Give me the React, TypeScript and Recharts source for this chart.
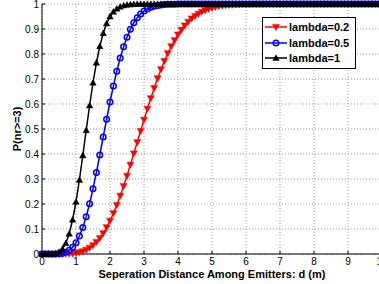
import { CartesianGrid, Line, LineChart, XAxis, YAxis } from "recharts";

// separation distance d (m)
const dist = [
  0, 0.1, 0.2, 0.3, 0.4, 0.5, 0.6, 0.7, 0.8, 0.9,
  1, 1.1, 1.2, 1.3, 1.4, 1.5, 1.6, 1.7, 1.8, 1.9,
  2, 2.1, 2.2, 2.3, 2.4, 2.5, 2.6, 2.7, 2.8, 2.9,
  3, 3.1, 3.2, 3.3, 3.4, 3.5, 3.6, 3.7, 3.8, 3.9,
  4, 4.1, 4.2, 4.3, 4.4, 4.5, 4.6, 4.7, 4.8, 4.9,
  5, 5.1, 5.2, 5.3, 5.4, 5.5, 5.6, 5.7, 5.8, 5.9,
  6, 6.1, 6.2, 6.3, 6.4, 6.5, 6.6, 6.7, 6.8, 6.9,
  7, 7.1, 7.2, 7.3, 7.4, 7.5, 7.6, 7.7, 7.8, 7.9,
  8, 8.1, 8.2, 8.3, 8.4, 8.5, 8.6, 8.7, 8.8, 8.9,
  9, 9.1, 9.2, 9.3, 9.4, 9.5, 9.6, 9.7, 9.8, 9.9,
  10,
];

const lambda02 = [
  0, 0, 0, 0, 0, 0, 0, 0.001, 0.001, 0.002,
  0.004, 0.007, 0.011, 0.017, 0.025, 0.035, 0.048, 0.064, 0.083, 0.107,
  0.133, 0.163, 0.196, 0.233, 0.272, 0.313, 0.357, 0.402, 0.447, 0.492,
  0.537, 0.581, 0.623, 0.664, 0.703, 0.739, 0.772, 0.803, 0.831, 0.855,
  0.878, 0.897, 0.914, 0.929, 0.942, 0.952, 0.961, 0.969, 0.975, 0.98,
  0.985, 0.988, 0.991, 0.993, 0.995, 0.996, 0.997, 0.998, 0.998, 0.999,
  0.999, 0.999, 1, 1, 1, 1, 1, 1, 1, 1,
  1, 1, 1, 1, 1, 1, 1, 1, 1, 1,
  1, 1, 1, 1, 1, 1, 1, 1, 1, 1,
  1, 1, 1, 1, 1, 1, 1, 1, 1, 1,
  1,
];

const lambda05 = [
  0, 0, 0, 0, 0, 0.001, 0.003, 0.007, 0.015, 0.027,
  0.045, 0.072, 0.106, 0.149, 0.201, 0.261, 0.326, 0.396, 0.468, 0.539,
  0.608, 0.672, 0.731, 0.784, 0.829, 0.867, 0.899, 0.925, 0.945, 0.96,
  0.972, 0.98, 0.987, 0.991, 0.994, 0.996, 0.998, 0.999, 0.999, 0.999,
  1, 1, 1, 1, 1, 1, 1, 1, 1, 1,
  1, 1, 1, 1, 1, 1, 1, 1, 1, 1,
  1, 1, 1, 1, 1, 1, 1, 1, 1, 1,
  1, 1, 1, 1, 1, 1, 1, 1, 1, 1,
  1, 1, 1, 1, 1, 1, 1, 1, 1, 1,
  1, 1, 1, 1, 1, 1, 1, 1, 1, 1,
  1,
];

const lambda1 = [
  0, 0, 0, 0, 0.002, 0.008, 0.02, 0.043, 0.081, 0.137,
  0.209, 0.296, 0.394, 0.495, 0.594, 0.685, 0.765, 0.831, 0.883, 0.922,
  0.95, 0.969, 0.981, 0.989, 0.994, 0.997, 0.998, 0.999, 1, 1,
  1, 1, 1, 1, 1, 1, 1, 1, 1, 1,
  1, 1, 1, 1, 1, 1, 1, 1, 1, 1,
  1, 1, 1, 1, 1, 1, 1, 1, 1, 1,
  1, 1, 1, 1, 1, 1, 1, 1, 1, 1,
  1, 1, 1, 1, 1, 1, 1, 1, 1, 1,
  1, 1, 1, 1, 1, 1, 1, 1, 1, 1,
  1, 1, 1, 1, 1, 1, 1, 1, 1, 1,
  1,
];

const xTicks = [0, 1, 2, 3, 4, 5, 6, 7, 8, 9, 10];
const yTicks = [0, 0.1, 0.2, 0.3, 0.4, 0.5, 0.6, 0.7, 0.8, 0.9, 1];

const seriesNames = ["lambda=0.2", "lambda=0.5", "lambda=1"];

const data = dist.map((d, i) => ({
  d,
  l02: lambda02[i],
  l05: lambda05[i],
  l1: lambda1[i],
}));

const font = "'Liberation Sans', Arial, Helvetica, sans-serif";

function downTri(cx: number, cy: number, color: string, key: string) {
  const s = 3.5;
  return (
    <path
      key={key}
      d={`M${cx - s},${cy - s * 0.75} L${cx + s},${cy - s * 0.75} L${cx},${cy + s} Z`}
      fill={color}
      stroke={color}
      strokeWidth={0.5}
    />
  );
}

function upTri(cx: number, cy: number, color: string, key: string) {
  const s = 3.2;
  return (
    <path
      key={key}
      d={`M${cx - s},${cy + s * 0.75} L${cx + s},${cy + s * 0.75} L${cx},${cy - s} Z`}
      fill={color}
      stroke={color}
      strokeWidth={0.5}
    />
  );
}

function ring(cx: number, cy: number, color: string, key: string) {
  return <circle key={key} cx={cx} cy={cy} r={2.8} fill="none" stroke={color} strokeWidth={1.5} />;
}

function BottomTick(props: any) {
  const { x, y, payload } = props;
  return (
    <g>
      <line x1={x} y1={y} x2={x} y2={y - 3} stroke="#000" />
      <text x={x} y={y + 11} textAnchor="middle" fontSize={10} fill="#000" fontFamily={font}>
        {payload.value}
      </text>
    </g>
  );
}

function TopTick(props: any) {
  const { x, y } = props;
  return (
    <g>
      <line x1={x} y1={y} x2={x} y2={y + 3} stroke="#000" />
    </g>
  );
}

function LeftTick(props: any) {
  const { x, y, payload } = props;
  return (
    <g>
      <line x1={x} y1={y} x2={x + 3} y2={y} stroke="#000" />
      <text x={x - 3} y={y} dy="0.35em" textAnchor="end" fontSize={10} fill="#000" fontFamily={font}>
        {payload.value}
      </text>
    </g>
  );
}

function LegendBox() {
  const rows = [
    { color: "#ff0000", mark: downTri, y: 10 },
    { color: "#0000ff", mark: ring, y: 26 },
    { color: "#000000", mark: upTri, y: 41 },
  ];
  return (
    <svg
      width={94}
      height={52}
      style={{ position: "absolute", left: 262, top: 17, background: "#fff" }}
    >
      <rect x={0.5} y={0.5} width={93} height={51} fill="#fff" stroke="#000" />
      {rows.map((r, i) => (
        <g key={i}>
          <line x1={3} y1={r.y} x2={25} y2={r.y} stroke={r.color} strokeWidth={1.5} />
          {r.mark(14, r.y, r.color, "m" + i)}
          <text
            x={27}
            y={r.y}
            dy="0.36em"
            fontSize={11}
            fontWeight="bold"
            fill="#000"
            fontFamily={font}
          >
            {seriesNames[i]}
          </text>
        </g>
      ))}
    </svg>
  );
}

export default function App() {
  return (
    <div
      style={{
        position: "fixed",
        left: 0,
        top: 0,
        width: 379,
        height: 284,
        overflow: "hidden",
        background: "#fff",
        fontFamily: font,
      }}
    >
      <LineChart width={384} height={284} data={data} margin={{ top: 4, right: 2, bottom: 0, left: 0 }}>
        <CartesianGrid stroke="#9a9a9a" strokeDasharray="1 2" />
        <XAxis
          dataKey="d"
          type="number"
          domain={[0, 10]}
          ticks={xTicks}
          interval={0}
          height={30}
          tickSize={0}
          tickMargin={0}
          tickLine={false}
          axisLine={{ stroke: "#000" }}
          tick={BottomTick}
          label={{
            value: "Seperation Distance Among Emitters: d (m)",
            position: "insideBottom",
            offset: 6,
            style: { fontSize: 11, fontWeight: "bold", fill: "#000", fontFamily: font },
          }}
        />
        <XAxis
          xAxisId="top"
          orientation="top"
          dataKey="d"
          type="number"
          domain={[0, 10]}
          ticks={xTicks}
          interval={0}
          height={0}
          tickSize={0}
          tickMargin={0}
          tickLine={false}
          axisLine={{ stroke: "#000" }}
          tick={TopTick}
        />
        <YAxis
          type="number"
          domain={[0, 1]}
          ticks={yTicks}
          interval={0}
          width={42}
          tickSize={0}
          tickMargin={0}
          tickLine={false}
          axisLine={{ stroke: "#000" }}
          tick={LeftTick}
          label={{
            value: "P(nr>=3)",
            angle: -90,
            position: "insideLeft",
            offset: 17,
            style: { textAnchor: "middle", fontSize: 11, fontWeight: "bold", fill: "#000", fontFamily: font },
          }}
        />
        <Line
          dataKey="l02"
          stroke="#ff0000"
          strokeWidth={1.5}
          isAnimationActive={false}
          dot={(p: any) => downTri(p.cx, p.cy, "#ff0000", "r" + p.index)}
        />
        <Line
          dataKey="l05"
          stroke="#0000ff"
          strokeWidth={1.5}
          isAnimationActive={false}
          dot={(p: any) => ring(p.cx, p.cy, "#0000ff", "b" + p.index)}
        />
        <Line
          dataKey="l1"
          stroke="#000000"
          strokeWidth={1.5}
          isAnimationActive={false}
          dot={(p: any) => upTri(p.cx, p.cy, "#000000", "k" + p.index)}
        />
      </LineChart>
      <LegendBox />
    </div>
  );
}
